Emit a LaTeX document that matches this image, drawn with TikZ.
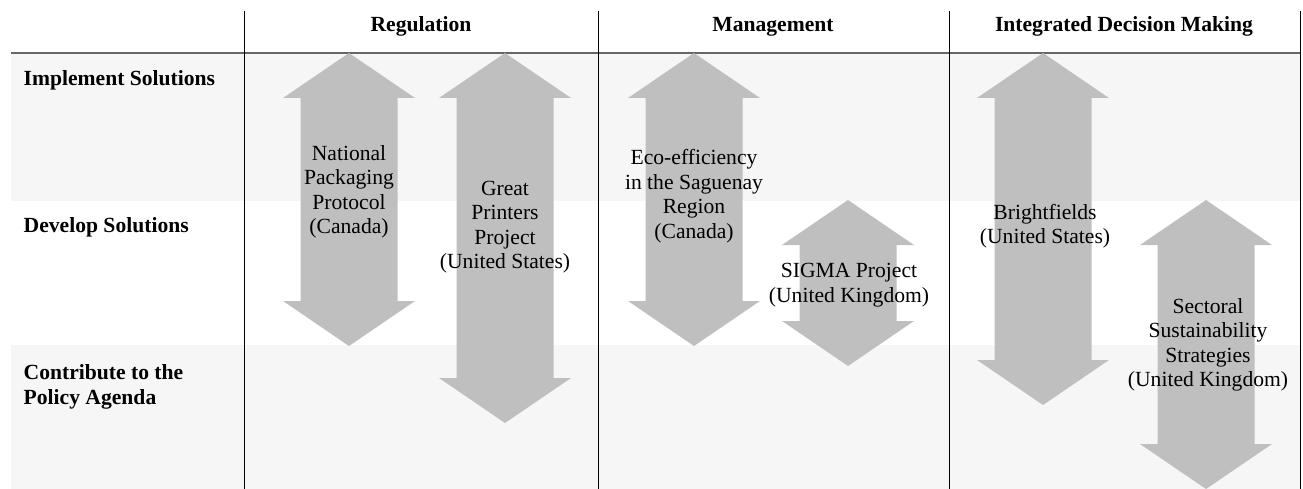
\documentclass[tikz,border=0pt]{standalone}
\usepackage{fontspec}
\setmainfont{Liberation Serif}

\definecolor{bandgray}{gray}{0.965}
\definecolor{arrowgray}{gray}{0.75}
\definecolor{rulegray}{gray}{0.4}

% two-headed block arrow: centre x, top tip y, bottom tip y
\newcommand{\twoway}[3]{%
  \fill[arrowgray] (#1,#2) -- (#1+66,#2+45) -- (#1+48.5,#2+45)
    -- (#1+48.5,#3-45) -- (#1+66,#3-45) -- (#1,#3)
    -- (#1-66,#3-45) -- (#1-48.5,#3-45) -- (#1-48.5,#2+45)
    -- (#1-66,#2+45) -- cycle;}

\begin{document}
\fontsize{21.6}{24.5}\selectfont
\begin{tikzpicture}[
            x=1pt, y=-1pt,
            band/.style={fill=bandgray, draw=none},
            rowlabel/.style={font=\bfseries, anchor=base west, inner sep=0pt},
            colhead/.style={font=\bfseries, anchor=base, inner sep=0pt},
            caption/.style={align=center, inner sep=0pt},
            rule/.style={black, line width=1pt}
        ]
        \useasboundingbox (0,0) rectangle (1303,489);

        % Row bands
        \fill[band] (11,53) rectangle (1300,201);
        \fill[band] (11,345) rectangle (1300,489);

        % Grid lines
        \draw[rulegray, line width=1.5pt] (11,53) -- (1300,53);
        \foreach \x in {244, 598, 949, 1300}
            \draw[rule] (\x,11) -- (\x,489);

        % Column heads
        \node[colhead] (reg-head) at (421,31.5) {Regulation};
        \node[colhead] (man-head) at (773,31.5) {Management};
        \node[colhead] (idm-head) at (1124,31.5) {Integrated Decision Making};

        % Row labels
        \node[rowlabel] (implement) at (23.5,86) {Implement Solutions};
        \node[rowlabel] (develop) at (23.5,232) {Develop Solutions};
        \node[font=\bfseries, align=left, inner sep=0pt, anchor=west] (contribute) at (23.5,387) {Contribute to the\\Policy Agenda};

        % Arrows
        \twoway{349}{53}{346}
        \twoway{505}{53}{423}
        \twoway{694}{53}{346}
        \twoway{848}{200}{366}
        \twoway{1043}{53}{405}
        \twoway{1206}{200}{489}

        % Arrow captions
        \node[caption] (npp) at (349,192) {National\\Packaging\\Protocol\\(Canada)};
        \node[caption] (gpp) at (505,227) {Great\\Printers\\Project\\(United States)};
        \node[caption] (eco) at (694,196) {Eco-efficiency\\in the Saguenay\\Region\\(Canada)};
        \node[caption] (sigma) at (849,285) {SIGMA Project\\(United Kingdom)};
        \node[caption] (bright) at (1045,226) {Brightfields\\(United States)};
        \node[caption] (sss) at (1208,345) {Sectoral\\Sustainability\\Strategies\\(United Kingdom)};

    \end{tikzpicture}
\end{document}
